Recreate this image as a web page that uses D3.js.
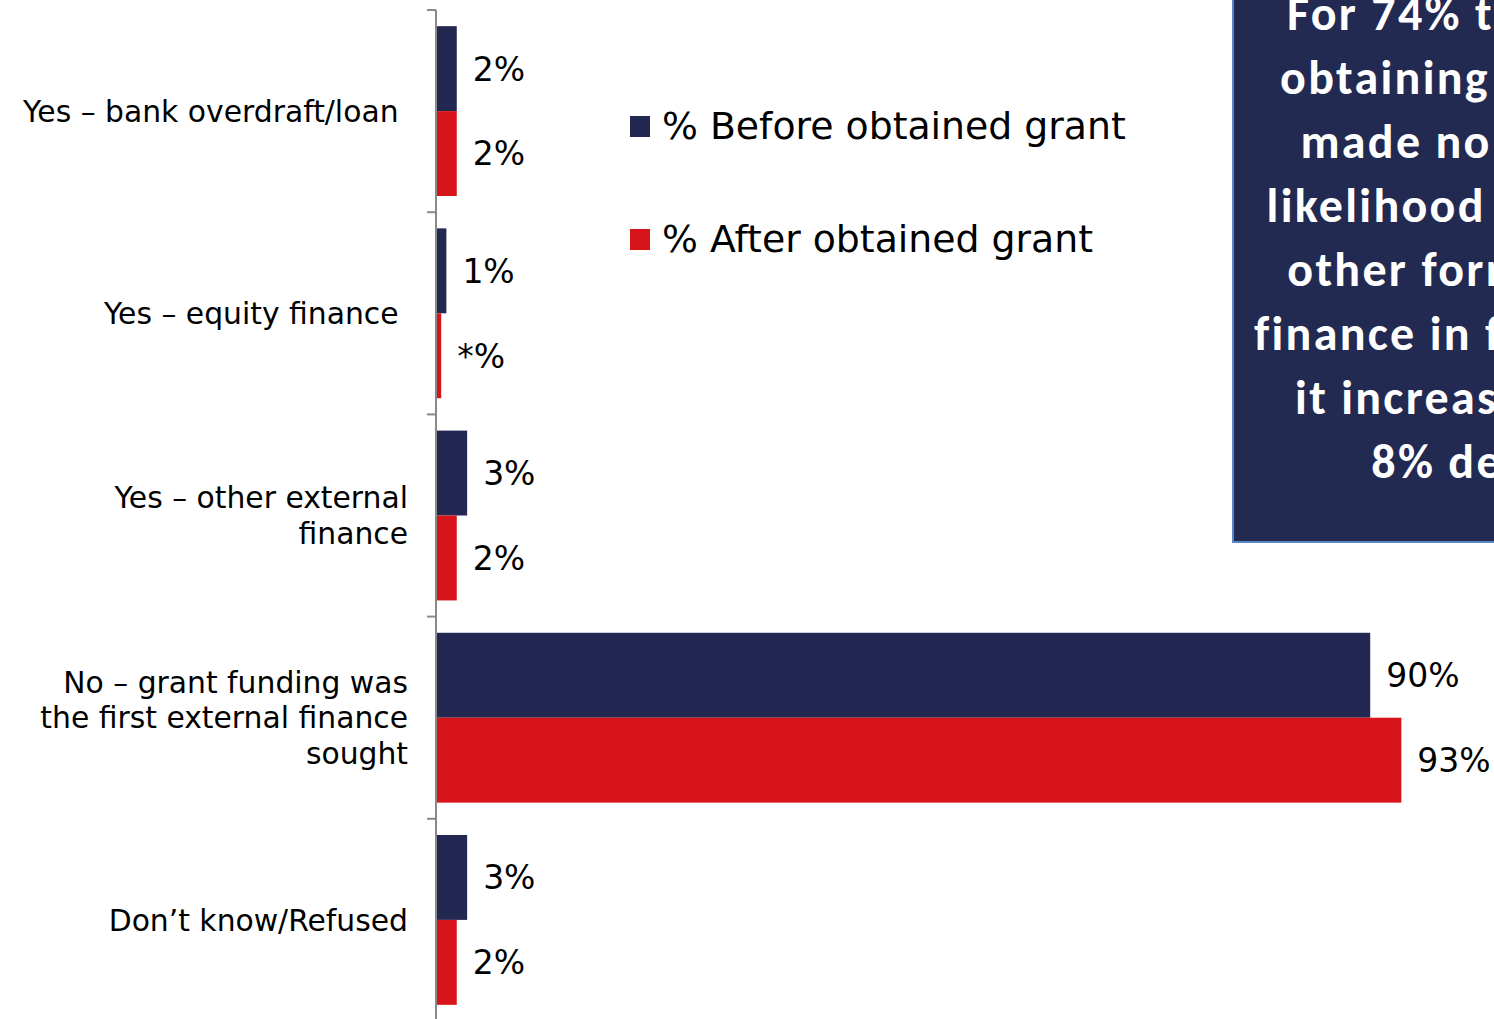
<!DOCTYPE html>
<html>
<head>
<meta charset="utf-8">
<script src="https://cdn.jsdelivr.net/npm/d3@7/dist/d3.min.js"></script>
<style>
  html, body { margin: 0; padding: 0; background: #ffffff; }
  svg { display: block; }
  .lbl { font-family: Verdana, "DejaVu Sans", sans-serif; fill: #000; white-space: pre; }
  .note { font-family: Calibri, Carlito, Lato, sans-serif; font-weight: 700; fill: #ffffff; letter-spacing: 2.3px; }
</style>
</head>
<body>
<svg id="chart" width="1494" height="1019"></svg>
<script>
// Whether other external finance was sought, before and after obtaining the grant
const categories = [
  "Yes – bank overdraft/loan ",
  "Yes – equity finance ",
  "Yes – other external\nfinance",
  "No – grant funding was\nthe first external finance\nsought",
  "Don’t know/Refused"
];
const seriesNames = ["% Before obtained grant", "% After obtained grant"];
const beforeValues = [2, 1, 3, 90, 3];
const afterValues = [2, 0.5, 2, 93, 2];
const beforeLabels = ["2%", "1%", "3%", "90%", "3%"];
const afterLabels = ["2%", "*%", "2%", "93%", "2%"];
const noteLines = [
  "For 74% the experience",
  "obtaining this grant had",
  "made no difference to",
  "likelihood of applying for",
  "other forms of external",
  "finance in future, whereas",
  "it increased it for 17%,",
  "8% decreased it"
];

const colors = ["#222851", "#d7141a"];

const svg = d3.select("#chart");
const W = 1494, H = 1019;

const x = d3.scaleLinear().domain([0, 100]).range([436, 1474]);
const y = d3.scaleBand().domain(d3.range(categories.length)).range([10, 1021])
  .paddingInner(0.16).paddingOuter(0.08);
const ySub = d3.scaleBand().domain([0, 1]).range([0, y.bandwidth()]);

const rows = categories.map((c, i) => ({
  i,
  values: [
    { s: 0, v: beforeValues[i], label: beforeLabels[i] },
    { s: 1, v: afterValues[i], label: afterLabels[i] }
  ]
}));

// bars
const groups = svg.append("g").selectAll("g").data(rows).join("g")
  .attr("transform", d => `translate(0,${y(d.i)})`);

groups.selectAll("rect").data(d => d.values).join("rect")
  .attr("x", x(0))
  .attr("y", d => ySub(d.s))
  .attr("width", d => x(d.v) - x(0))
  .attr("height", ySub.bandwidth())
  .attr("fill", d => colors[d.s]);

groups.selectAll("text").data(d => d.values).join("text")
  .attr("class", "lbl")
  .attr("x", d => x(d.v) + 16)
  .attr("y", d => ySub(d.s) + ySub.bandwidth() / 2)
  .attr("dy", "0.36em")
  .style("font-size", "33px")
  .text(d => d.label);

// category axis with ticks at band boundaries
const step = y.step();
const axisG = svg.append("g");
axisG.append("line")
  .attr("x1", x(0)).attr("x2", x(0))
  .attr("y1", 10).attr("y2", H + 5)
  .attr("stroke", "#898989").attr("stroke-width", 2);
axisG.selectAll("line.tick").data(d3.range(categories.length + 1)).join("line")
  .attr("class", "tick")
  .attr("x1", x(0) - 9).attr("x2", x(0))
  .attr("y1", k => 10 + k * step).attr("y2", k => 10 + k * step)
  .attr("stroke", "#898989").attr("stroke-width", 2);

// category labels
const lineH = 35.5;
const catText = svg.append("g").selectAll("text").data(categories).join("text")
  .attr("class", "lbl")
  .attr("text-anchor", "end")
  .style("font-size", "29.8px")
  .attr("transform", (c, i) => `translate(${x(0) - 28},${y(i) + y.bandwidth() / 2})`);
catText.each(function (c) {
  const lines = c.split("\n");
  const t = d3.select(this);
  lines.forEach((ln, j) => {
    t.append("tspan")
      .attr("x", 0)
      .attr("y", (j - (lines.length - 1) / 2) * lineH)
      .attr("dy", "0.36em")
      .text(ln);
  });
});

// legend
const legend = svg.append("g").selectAll("g").data(seriesNames).join("g")
  .attr("transform", (d, i) => `translate(630,${116 + i * 113})`);
legend.append("rect").attr("width", 20).attr("height", 21).attr("fill", (d, i) => colors[i]);
legend.append("text").attr("class", "lbl")
  .attr("x", 32).attr("y", 23)
  .style("font-size", "37.8px")
  .text(d => d);

// callout box
const note = svg.append("g");
note.append("rect")
  .attr("x", 1233).attr("y", -10)
  .attr("width", 640).attr("height", 552)
  .attr("fill", "#222a52")
  .attr("stroke", "#5a87c5").attr("stroke-width", 2);
note.append("text").attr("class", "note")
  .attr("text-anchor", "middle")
  .style("font-size", "48px")
  .selectAll("tspan").data(noteLines).join("tspan")
  .attr("x", 1545)
  .attr("y", (d, i) => 30 + i * 64)
  .text(d => d);
</script>
</body>
</html>
